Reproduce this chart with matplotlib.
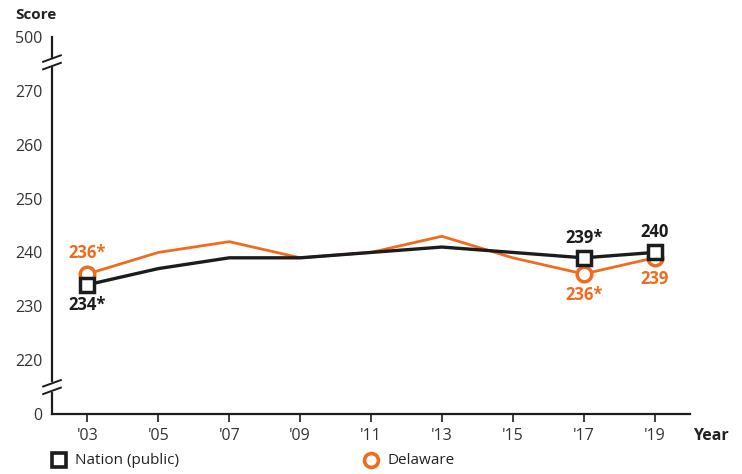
import matplotlib
matplotlib.use("Agg")
import matplotlib.pyplot as plt
from matplotlib.lines import Line2D
import numpy as np

plt.rcParams["font.family"] = ["Open Sans", "DejaVu Sans"]

# data
years = [2003, 2005, 2007, 2009, 2011, 2013, 2015, 2017, 2019]
year_labels = ["'03", "'05", "'07", "'09", "'11", "'13", "'15", "'17", "'19"]
nation = [234, 237, 239, 239, 240, 241, 240, 239, 240]
delaware = [236, 240, 242, 239, 240, 243, 239, 236, 239]
ytick_values = [0, 220, 230, 240, 250, 260, 270, 500]

# annotated points: (index, text)
nation_notes = [(0, "234*"), (7, "239*"), (8, "240")]
delaware_notes = [(0, "236*"), (7, "236*"), (8, "239")]

BLACK = "#1c1c1c"
ORANGE = "#F26B1D"


def to_axis(v):
    # broken axis: 0 sits one step below 220, 500 one step above 270
    v = np.asarray(v, dtype=float)
    return (v - 210) / 10


fig = plt.figure(figsize=(7.42, 4.74), dpi=100)
W, H = 742, 474
ax = fig.add_axes([52 / W, (H - 414) / H, (690 - 52) / W, (414 - 37) / H])

ax.plot(years, to_axis(delaware), color=ORANGE, lw=2.0, zorder=2)
ax.plot(years, to_axis(nation), color=BLACK, lw=2.4, zorder=3)

mark = [0, 7, 8]
ax.plot([years[i] for i in mark], to_axis([delaware[i] for i in mark]),
        ls="none", marker="o", ms=10.5, mfc="white", mec=ORANGE, mew=2.5, zorder=4)
ax.plot([years[i] for i in mark], to_axis([nation[i] for i in mark]),
        ls="none", marker="s", ms=10.5, mfc="white", mec=BLACK, mew=2.5, zorder=5)

for i, txt in nation_notes:
    dy = -20 if i == 0 else 20
    ax.annotate(txt, (years[i], to_axis(nation[i])), xytext=(0, dy),
                textcoords="offset pixels", ha="center", va="center",
                fontsize=12, fontweight="bold", color=BLACK)
for i, txt in delaware_notes:
    dy = 21 if i == 0 else -21
    ax.annotate(txt, (years[i], to_axis(delaware[i])), xytext=(0, dy),
                textcoords="offset pixels", ha="center", va="center",
                fontsize=12, fontweight="bold", color=ORANGE)

ax.set_xlim(2002, 2020)
ax.set_ylim(0, 7)
ax.set_xticks(years)
ax.set_xticklabels(year_labels)
ax.set_yticks(np.arange(len(ytick_values)))
ax.set_yticklabels([str(v) for v in ytick_values])
ax.tick_params(axis="y", length=0, pad=7, labelsize=11.5, labelcolor="#333333")
ax.tick_params(axis="x", length=6, width=1.2, color=BLACK, pad=4,
               labelsize=11.5, labelcolor="#333333")
for s in ["top", "right"]:
    ax.spines[s].set_visible(False)
for s in ["left", "bottom"]:
    ax.spines[s].set_color(BLACK)
    ax.spines[s].set_linewidth(1.6)

# axis break marks on the y axis
for yb in (6.53, 0.5):
    for dy in (-0.07, 0.07):
        ax.plot([2001.75, 2002.25], [yb + dy - 0.06, yb + dy + 0.06],
                color=BLACK, lw=1.4, clip_on=False, zorder=6)
    ax.plot([2002, 2002], [yb - 0.05, yb + 0.05], color="white", lw=3,
            clip_on=False, zorder=5)

fig.text(15 / W, 1 - 15 / H, "Score", fontsize=11, fontweight="bold",
         color="#222222", ha="left", va="center")
fig.text(693 / W, 1 - 436 / H, "Year", fontsize=11.5, fontweight="bold",
         color="#222222", ha="left", va="center")

# legend row
fig.add_artist(Line2D([59 / W], [1 - 460 / H], marker="s", ms=10, mfc="white",
                      mec=BLACK, mew=2.6, ls="none", transform=fig.transFigure))
fig.text(75 / W, 1 - 460 / H, "Nation (public)", fontsize=11, color="#222222",
         ha="left", va="center")
fig.add_artist(Line2D([371 / W], [1 - 460 / H], marker="o", ms=10, mfc="white",
                      mec=ORANGE, mew=2.6, ls="none", transform=fig.transFigure))
fig.text(387 / W, 1 - 460 / H, "Delaware", fontsize=11, color="#222222",
         ha="left", va="center")

fig.savefig("out.png", dpi=100)
